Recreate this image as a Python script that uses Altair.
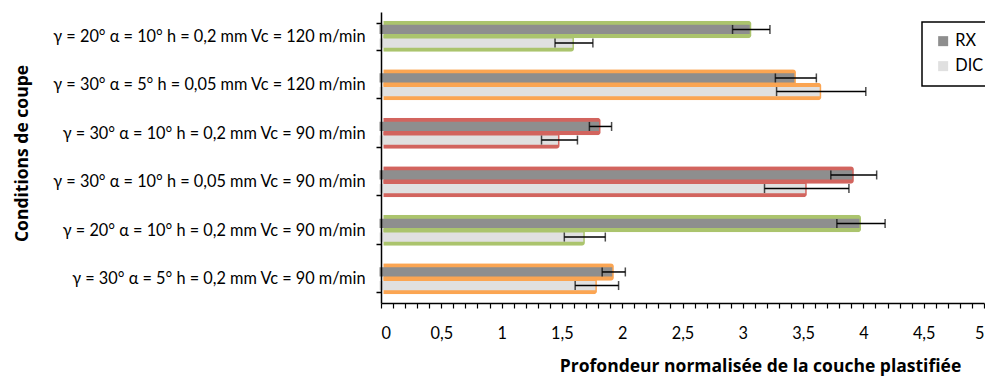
import altair as alt
import pandas as pd

conditions = [
    "γ = 20° α = 10° h = 0,2 mm Vc = 120 m/min",
    "γ = 30° α = 5° h = 0,05 mm Vc = 120 m/min",
    "γ = 30° α = 10° h = 0,2 mm Vc = 90 m/min",
    "γ = 30° α = 10° h = 0,05 mm Vc = 90 m/min",
    "γ = 20° α = 10° h = 0,2 mm Vc = 90 m/min",
    "γ = 30° α = 5° h = 0,2 mm Vc = 90 m/min",
]
series = ["RX", "DIC"]
rx_values = [3.07, 3.44, 1.82, 3.92, 3.98, 1.93]
rx_errors = [0.155, 0.17, 0.092, 0.19, 0.20, 0.096]
dic_values = [1.60, 3.65, 1.48, 3.53, 1.69, 1.79]
dic_errors = [0.157, 0.37, 0.149, 0.35, 0.17, 0.18]
outline_groups = ["vert", "orange", "rouge", "rouge", "vert", "orange"]
x_ticks = [round(i * 0.1, 1) for i in range(51)]

rows = []
for i, c in enumerate(conditions):
    for s, vals, errs in (("RX", rx_values, rx_errors), ("DIC", dic_values, dic_errors)):
        v, e = vals[i], errs[i]
        rows.append({"cond": c, "serie": s, "valeur": v, "lo": v - e, "hi": v + e,
                     "groupe": outline_groups[i]})
df = pd.DataFrame(rows)

FONT = "Lato"
TFONT = "Open Sans"
XTITLE = "Profondeur normalisée de la couche plastifiée"

y_axis = alt.Axis(tickBand="extent", tickSize=5, tickColor="black", tickWidth=1.5,
                  domainColor="black", domainWidth=1.5,
                  labelFont=FONT, labelFontSize=16.3, labelColor="black", labelPadding=11,
                  labelLimit=600,
                  titleFont=TFONT, titleFontSize=17.5, titleFontWeight="bold", titleColor="black",
                  titleAngle=-90, titleX=-359, titleY=141, titleBaseline="middle",
                  titleAlign="center", zindex=1)
x_axis = alt.Axis(values=x_ticks, grid=False,
                  labelExpr="abs(datum.value*2 - round(datum.value*2)) < 0.001 ? replace(format(datum.value, '~g'), '.', ',') : ''",
                  labelOverlap=False, labelFlush=True, labelFlushOffset=0,
                  tickSize=5, tickColor="black", tickWidth=1.2,
                  domainColor="black", domainWidth=1.5,
                  labelFont=FONT, labelFontSize=16.3, labelColor="black", labelPadding=17,
                  titleFont=TFONT, titleFontSize=17.5, titleFontWeight="bold", titleColor="black",
                  titleX=379, titleY=63, titleBaseline="middle", titleAlign="center", zindex=1)

ysc = alt.Scale(domain=conditions, paddingInner=0.44, paddingOuter=0.22)
xsc = alt.Scale(domain=[0, 5], nice=False, zero=True)


def yenc():
    return alt.Y("cond:N", sort=conditions, scale=ysc, axis=y_axis, title="Conditions de coupe")


def yoff():
    return alt.YOffset("serie:N", sort=series,
                       scale=alt.Scale(domain=series, paddingInner=0, paddingOuter=0))


def xenc(field):
    return alt.X(f"{field}:Q", scale=xsc, axis=x_axis, title=XTITLE)


# coloured halo around each bar (Excel "glow")
halo = alt.Chart(df).mark_bar(height=17.5, cornerRadius=3, xOffset=2.5, x2Offset=-3).encode(
    x=xenc("valeur"),
    y=yenc(),
    yOffset=yoff(),
    fill=alt.Fill("groupe:N",
                  scale=alt.Scale(domain=["vert", "orange", "rouge"],
                                  range=["#abc46d", "#fba552", "#d2645e"]),
                  legend=None),
)

bars = alt.Chart(df).mark_bar(height=9.3, xOffset=-1.5).encode(
    x=xenc("valeur"),
    y=yenc(),
    yOffset=yoff(),
    fill=alt.Fill("serie:N", sort=series,
                  scale=alt.Scale(domain=series, range=["#8e8e8e", "#e0e0e0"]),
                  legend=alt.Legend(title=None, orient="none", legendX=541, legendY=10,
                                    strokeColor="black", fillColor="white",
                                    padding=11, symbolOffset=2, symbolType="square",
                                    symbolSize=100, symbolStrokeWidth=0,
                                    labelFont=FONT, labelFontSize=16.3, labelColor="black",
                                    labelOffset=4, rowPadding=8)),
)

rule = alt.Chart(df).mark_rule(color="black", strokeWidth=1.5).encode(
    x=xenc("lo"), x2="hi:Q", y=yenc(), yOffset=yoff())
cap_lo = alt.Chart(df).mark_tick(color="black", thickness=1.5, size=9).encode(
    x=xenc("lo"), y=yenc(), yOffset=yoff())
cap_hi = alt.Chart(df).mark_tick(color="black", thickness=1.5, size=9).encode(
    x=xenc("hi"), y=yenc(), yOffset=yoff())

chart = alt.layer(halo, bars, rule, cap_lo, cap_hi).resolve_scale(
    fill="independent"
).properties(
    width=603, height=291,
    autosize=alt.AutoSizeParams(type="none"),
    padding={"left": 373, "top": 4, "right": 1, "bottom": 74},
    background="white",
).configure_view(stroke=None).configure_legend(strokeWidth=1.5)

chart.save("out.html", embed_options={"renderer": "svg", "actions": False})
